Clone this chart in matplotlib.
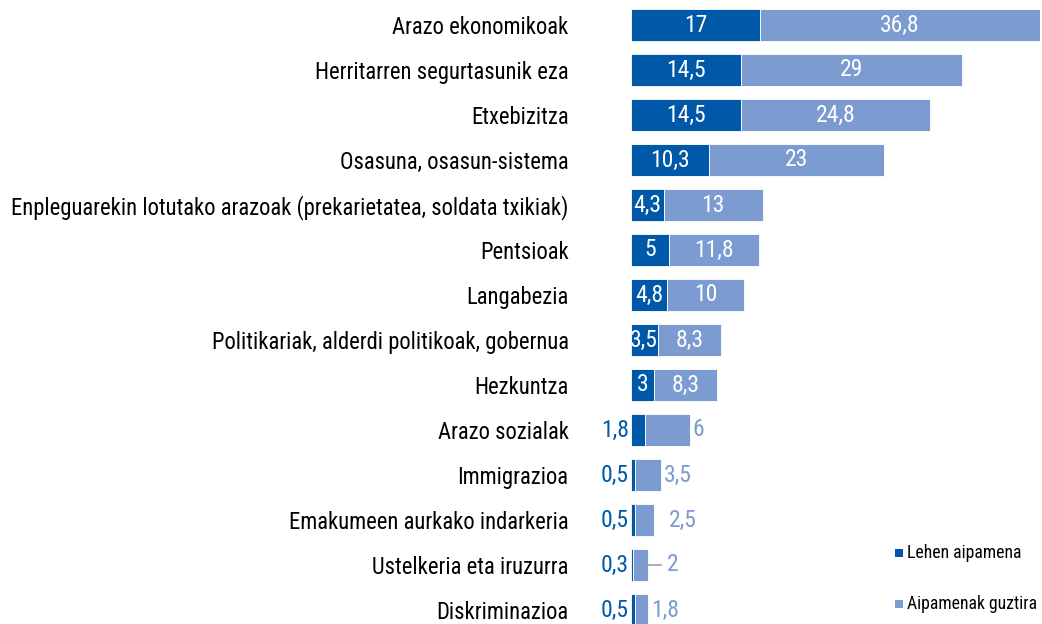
import matplotlib
matplotlib.use("Agg")
import matplotlib.pyplot as plt
from matplotlib.patches import Rectangle
from matplotlib import font_manager

categories = [
    "Arazo ekonomikoak",
    "Herritarren segurtasunik eza",
    "Etxebizitza",
    "Osasuna, osasun-sistema",
    "Enpleguarekin lotutako arazoak (prekarietatea, soldata txikiak)",
    "Pentsioak",
    "Langabezia",
    "Politikariak, alderdi politikoak, gobernua",
    "Hezkuntza",
    "Arazo sozialak",
    "Immigrazioa",
    "Emakumeen aurkako indarkeria",
    "Ustelkeria eta iruzurra",
    "Diskriminazioa",
]
lehen = [17, 14.5, 14.5, 10.3, 4.3, 5, 4.8, 3.5, 3, 1.8, 0.5, 0.5, 0.3, 0.5]
guztira = [36.8, 29, 24.8, 23, 13, 11.8, 10, 8.3, 8.3, 6, 3.5, 2.5, 2, 1.8]
series_names = ["Lehen aipamena", "Aipamenak guztira"]

names = {f.name for f in font_manager.fontManager.ttflist}
fam = [f for f in ["Roboto Condensed", "Liberation Sans Narrow", "Liberation Sans"] if f in names]
plt.rcParams["font.family"] = fam + ["DejaVu Sans"]

DARK = "#0058A8"
LIGHT = "#7B9BD1"

# manual nudges of outside labels (in data units), as in the original
LABEL_NUDGE = {"Emakumeen aurkako indarkeria": 1.6}

def fmt(v):
    return ("%g" % v).replace(".", ",")

W, H = 1042, 624
fig = plt.figure(figsize=(W / 100, H / 100), dpi=100)
left_px, right_px = 631, 1040
xmax = 53.8
ax = fig.add_axes([left_px / W, 0, (right_px - left_px) / W, 1])
n = len(categories)
y = list(range(n))
ax.set_xlim(0, xmax)
ax.set_ylim((H - 25) / 45, -25 / 45)

ax.barh(y, lehen, height=0.73, color=DARK, edgecolor="white", linewidth=0.6)
ax.barh(y, guztira, left=lehen, height=0.73, color=LIGHT, edgecolor="white", linewidth=0.6)

for s in ax.spines.values():
    s.set_visible(False)
ax.set_xticks([])
ax.set_yticks(y)
ax.set_yticklabels(categories, fontsize=16.3)
ax.tick_params(axis="y", length=0, pad=45)

fs = 17
for i in range(n):
    d, g = lehen[i], guztira[i]
    if d >= 3:
        ax.text(d / 2, i, fmt(d), ha="center", va="center", color="white", fontsize=fs)
    else:
        ax.annotate(fmt(d), (0, i), xytext=(-1.5, 0), textcoords="offset points",
                    ha="right", va="center", color=DARK, fontsize=fs)
    end = d + g
    if g >= 8:
        ax.text(d + g / 2, i, fmt(g), ha="center", va="center", color="white", fontsize=fs)
    elif g == 2:
        ax.plot([end, end + 1.7], [i, i], color="#A0A0A0", lw=1.2)
        ax.annotate(fmt(g), (end + 2.4, i), ha="left", va="center", color=LIGHT, fontsize=fs)
    else:
        x = end + 0.35 + LABEL_NUDGE.get(categories[i], 0)
        ax.annotate(fmt(g), (x, i), ha="left", va="center", color=LIGHT, fontsize=fs)

# legend (bottom right)
for (name, col, ypx) in zip(series_names, [DARK, LIGHT], [553, 604]):
    fig.add_artist(Rectangle((895 / W, 1 - (ypx + 4) / H), 8 / W, 8 / H,
                             transform=fig.transFigure, facecolor=col, edgecolor="none"))
    fig.text(907 / W, 1 - ypx / H, name, ha="left", va="center", fontsize=12.7, color="black")

fig.savefig("out.png", dpi=100)
